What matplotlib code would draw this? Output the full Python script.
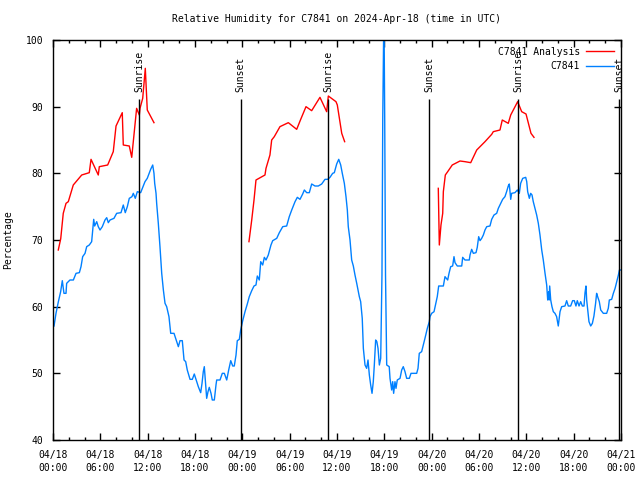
import matplotlib
matplotlib.use('Agg')
import matplotlib.pyplot as plt
import matplotlib.dates as mdates
import numpy as np
import pandas as pd

# ---------------------------------------------------------------------------
# Data (hours since 2024-04-18 00:00 UTC)
# ---------------------------------------------------------------------------
START = pd.Timestamp('2024-04-18 00:00')

obs_hours = [
    0.13, 0.38, 0.68, 0.97, 1.18, 1.39, 1.65, 1.73, 2.15, 2.58, 2.92, 3.34, 3.55, 3.76,
    4.06, 4.27, 4.6, 4.9, 5.03, 5.16, 5.28, 5.54, 5.74, 5.96, 6.25, 6.59, 6.81, 7.01,
    7.23, 7.73, 8.07, 8.62, 8.91, 9.16, 9.42, 9.67, 10.01, 10.18, 10.43, 10.69, 11.11,
    11.66, 11.95, 12.38, 12.64, 12.8, 12.89, 13.06, 13.14, 13.35, 13.56, 13.78, 13.99,
    14.2, 14.41, 14.7, 14.92, 15.34, 15.68, 15.89, 16.1, 16.39, 16.61, 16.82, 17.02,
    17.37, 17.66, 17.91, 18.22, 18.42, 18.72, 18.89, 19.05, 19.18, 19.31, 19.48, 19.65,
    19.81, 20.03, 20.19, 20.45, 20.66, 20.75, 21.17, 21.46, 21.72, 22.02, 22.27, 22.53,
    22.78, 22.98, 23.2, 23.36, 23.62, 23.79, 24.05, 24.34, 24.63, 24.88, 25.19, 25.48,
    25.73, 25.9, 26.15, 26.33, 26.58, 26.79, 27.0, 27.29, 27.63, 27.85, 28.36, 28.69,
    29.12, 29.62, 29.95, 30.26, 30.68, 30.97, 31.31, 31.65, 31.86, 32.16, 32.49, 32.79,
    33.21, 33.63, 34.06, 34.27, 34.48, 34.82, 35.11, 35.45, 35.66, 35.96, 36.22, 36.47,
    36.67, 36.93, 37.14, 37.31, 37.43, 37.65, 37.86, 38.07, 38.28, 38.5, 38.7, 38.83,
    39.0, 39.2, 39.34, 39.55, 39.76, 39.93, 40.1, 40.27, 40.44, 40.6, 40.73, 40.9,
    41.05, 41.2, 41.37, 41.54, 41.7, 41.8, 41.95, 42.05, 42.15, 42.3, 42.62, 42.72,
    42.93, 43.06, 43.18, 43.35, 43.48, 43.64, 43.99, 44.2, 44.4, 44.62, 44.83, 45.17,
    45.38, 46.1, 46.27, 46.43, 46.73, 46.94, 47.15, 47.45, 47.7, 47.79, 48.0, 48.3,
    48.55, 48.71, 48.89, 49.48, 49.69, 50.03, 50.2, 50.41, 50.66, 50.83, 50.96, 51.25,
    51.81, 51.93, 52.22, 52.77, 52.86, 53.07, 53.28, 53.62, 53.78, 53.96, 54.13, 54.34,
    54.55, 54.76, 54.98, 55.39, 55.61, 55.9, 56.24, 56.45, 56.75, 57.0, 57.29, 57.5,
    57.71, 57.84, 58.02, 58.14, 58.56, 58.86, 59.11, 59.28, 59.54, 59.92, 60.05, 60.17,
    60.38, 60.55, 60.72, 60.88, 61.1, 61.31, 61.52, 61.73, 61.95, 62.15, 62.37, 62.58,
    62.71, 62.83, 62.9, 62.96, 63.09, 63.25, 63.42, 63.63, 63.84, 64.05, 64.27, 64.48,
    64.9, 65.11, 65.32, 65.62, 65.87, 66.08, 66.29, 66.46, 66.68, 66.89, 67.1, 67.31,
    67.44, 67.56, 67.65, 67.78, 67.94, 68.16, 68.37, 68.57, 68.78, 68.91, 69.04, 69.25,
    69.43, 69.76, 70.18, 70.39, 70.52, 70.82, 71.03, 71.25, 71.46, 71.67, 71.8, 71.98,
]
obs_rh = [
    57.1, 59.0, 60.75, 62.25, 63.9, 62.0, 62.0, 63.5, 64.0, 64.0, 65.0, 65.1, 66.0, 67.5,
    68.0, 69.0, 69.25, 69.75, 71.5, 73.1, 72.1, 72.75, 72.0, 71.5, 72.0, 73.0, 73.35, 72.6,
    73.0, 73.25, 74.0, 74.1, 75.25, 74.1, 75.0, 76.25, 76.5, 77.0, 76.25, 77.25, 77.1,
    78.75, 79.25, 80.6, 81.25, 80.0, 78.5, 77.0, 75.5, 72.5, 69.0, 65.0, 62.5,
    60.5, 60.0, 58.5, 56.0, 56.0, 54.75, 54.0, 54.9, 54.9, 52.0, 51.75, 50.5,
    49.1, 49.1, 49.9, 48.75, 48.0, 47.1, 48.5, 50.25, 51.0, 49.0, 46.25, 47.25,
    47.9, 47.0, 46.0, 46.0, 48.25, 49.0, 49.0, 50.0, 50.0, 49.0, 50.5, 51.9,
    51.1, 51.1, 52.75, 54.9, 55.1, 56.5, 57.9, 59.25, 60.4, 61.5, 62.4, 63.1,
    63.25, 64.6, 64.0, 66.75, 66.25, 67.4, 67.0, 67.75, 69.25, 69.9, 70.25, 71.1,
    72.0, 72.1, 73.5, 74.5, 75.75, 76.4, 76.1, 76.9, 77.5, 77.1, 77.1, 78.4,
    78.1, 78.1, 78.4, 78.75, 79.1, 79.1, 79.4, 80.0, 80.1, 81.4, 82.1, 81.25,
    80.0, 78.5, 76.5, 74.5, 72.0, 70.0, 67.0, 66.1, 64.75, 63.5, 62.25, 61.5,
    60.75, 58.25, 53.75, 51.25, 50.75, 52.0, 49.75, 48.25, 47.0, 48.75, 51.25, 55.0,
    54.75, 53.75, 51.25, 52.25, 64.75, 88.25, 105.0, 87.75, 64.75, 51.25, 51.0, 49.25,
    47.5, 48.75, 47.0, 48.75, 47.75, 49.0, 49.25, 50.5, 51.0, 50.25, 49.25, 49.25,
    50.0, 50.0, 50.75, 53.0, 53.25, 54.25, 55.25, 56.75, 57.75, 58.5, 59.0, 59.25,
    60.6, 61.5, 63.1, 63.1, 64.5, 64.0, 65.0, 66.0, 66.1, 67.5, 66.6, 66.1,
    66.1, 67.4, 67.0, 67.0, 67.75, 68.6, 68.0, 68.1, 68.9, 70.5, 69.9, 70.25,
    70.75, 71.5, 72.0, 72.1, 73.1, 73.75, 74.0, 74.75, 75.5, 76.1, 76.5, 77.25,
    78.1, 78.4, 76.1, 77.0, 77.1, 77.5, 77.0, 78.5, 79.25, 79.4, 78.75, 77.25,
    76.25, 77.0, 76.75, 75.75, 74.75, 73.75, 72.5, 70.75, 68.5, 67.0, 65.0, 63.25,
    61.0, 62.25, 61.0, 63.1, 61.0, 60.0, 59.25, 59.0, 58.5, 57.1, 59.25, 60.0,
    60.1, 60.9, 60.1, 60.1, 60.9, 60.9, 60.1, 60.9, 60.1, 60.75, 60.1, 60.1,
    62.1, 63.1, 61.0, 59.5, 57.75, 57.1, 57.5, 58.6, 60.5, 62.0, 61.5, 60.75,
    59.5, 59.0, 59.0, 59.75, 61.0, 61.1, 62.0, 62.75, 63.75, 64.75, 65.5, 65.5,
]

# analysis series, three separate runs
ana1_hours = [0.67, 0.98, 1.3, 1.65, 1.94, 2.57, 3.64, 4.6, 4.82, 5.74, 5.87, 6.93,
              7.64, 7.99, 8.78, 8.91, 9.67, 9.98, 10.6, 10.94, 11.03, 11.37, 11.7,
              11.95, 12.8]
ana1_rh = [68.5, 70.2, 74.0, 75.5, 75.75, 78.25, 79.75, 80.1, 82.1, 79.75, 81.0, 81.25,
           83.25, 87.1, 89.1, 84.25, 84.1, 82.4, 89.75, 88.75, 89.75, 91.25, 95.75,
           89.5, 87.6]
ana2_hours = [24.84, 25.19, 25.48, 25.73, 26.87, 27.0, 27.5, 27.72, 28.05, 28.77, 29.83,
              30.89, 31.4, 32.07, 32.79, 33.84, 34.69, 34.9, 35.87, 36.04, 36.6, 36.97]
ana2_rh = [69.75, 73.0, 76.0, 79.0, 79.75, 80.75, 82.75, 85.0, 85.5, 87.0, 87.6,
           86.6, 88.1, 90.0, 89.4, 91.4, 89.25, 91.6, 90.75, 90.25, 86.0, 84.75]
ana3_hours = [48.84, 48.97, 49.18, 49.4, 49.48, 49.73, 50.03, 50.61, 51.59, 52.22, 52.95,
              53.71, 54.76, 55.61, 55.81, 56.66, 56.95, 57.71, 58.02, 58.9, 59.41, 59.96,
              60.59, 60.97]
ana3_rh = [77.75, 69.25, 72.25, 74.0, 77.25, 79.75, 80.25, 81.25, 81.85, 81.75, 81.6,
           83.5, 84.75, 85.85, 86.25, 86.5, 88.0, 87.5, 88.75, 90.75, 89.25, 88.9,
           86.0, 85.4]

sun_hours = [10.94, 23.79, 34.9, 47.7, 58.99, 71.79]
sun_labels = ['Sunrise', 'Sunset', 'Sunrise', 'Sunset', 'Sunrise', 'Sunset']


def to_time(hours):
    return START + pd.to_timedelta(np.asarray(hours, dtype=float), unit='h')


# red runs joined with gaps
ana_t = []
ana_v = []
for hh, vv in [(ana1_hours, ana1_rh), (ana2_hours, ana2_rh), (ana3_hours, ana3_rh)]:
    ana_t.extend(list(to_time(hh)))
    ana_v.extend(vv)
    ana_t.append(to_time([hh[-1] + 0.01])[0])
    ana_v.append(np.nan)

# ---------------------------------------------------------------------------
# Plot
# ---------------------------------------------------------------------------
plt.rcParams['font.family'] = ['DejaVu Sans Mono', 'DejaVu Sans']
FS = 7

fig = plt.figure(figsize=(6.4, 4.8), dpi=100)
ax = fig.add_axes([53 / 640, 40 / 480, 568 / 640, 400 / 480])

ax.plot(ana_t, ana_v, color='#ff0000', lw=1, label='C7841 Analysis')
ax.plot(to_time(obs_hours), obs_rh, color='#0080ff', lw=1, label='C7841')

for h, lab in zip(sun_hours, sun_labels):
    t = to_time([h])[0]
    ax.vlines(t, 40, 91.1, color='black', lw=1)
    ax.text(t, 92.2, lab, rotation=90, ha='center', va='bottom', fontsize=FS)

ax.set_xlim(START, START + pd.Timedelta(hours=72))
ax.set_ylim(40, 100)
ax.set_yticks([40, 50, 60, 70, 80, 90, 100])

ax.xaxis.set_major_locator(mdates.HourLocator(byhour=[0, 6, 12, 18]))
ax.xaxis.set_minor_locator(mdates.HourLocator(interval=2))
ax.xaxis.set_major_formatter(mdates.DateFormatter('%m/%d\n%H:%M'))

ax.tick_params(which='both', direction='in', top=True, right=True, labelsize=FS)
ax.tick_params(which='major', length=5, width=1, pad=7)
ax.tick_params(which='minor', length=2.5, width=1)
for lbl in ax.get_xticklabels():
    lbl.set_linespacing(1.45)
for s in ax.spines.values():
    s.set_linewidth(1)

ax.set_ylabel('Percentage', fontsize=FS, labelpad=9)
fig.text(337 / 640, 1 - 19 / 480, 'Relative Humidity for C7841 on 2024-Apr-18 (time in UTC)',
         ha='center', va='center', fontsize=FS)

ax.legend(loc='upper right', frameon=False, markerfirst=False, fontsize=FS,
          handlelength=2.9, borderaxespad=0.5, borderpad=0.2, labelspacing=0.45,
          handletextpad=0.6)

plt.savefig('out.png', dpi=100)
